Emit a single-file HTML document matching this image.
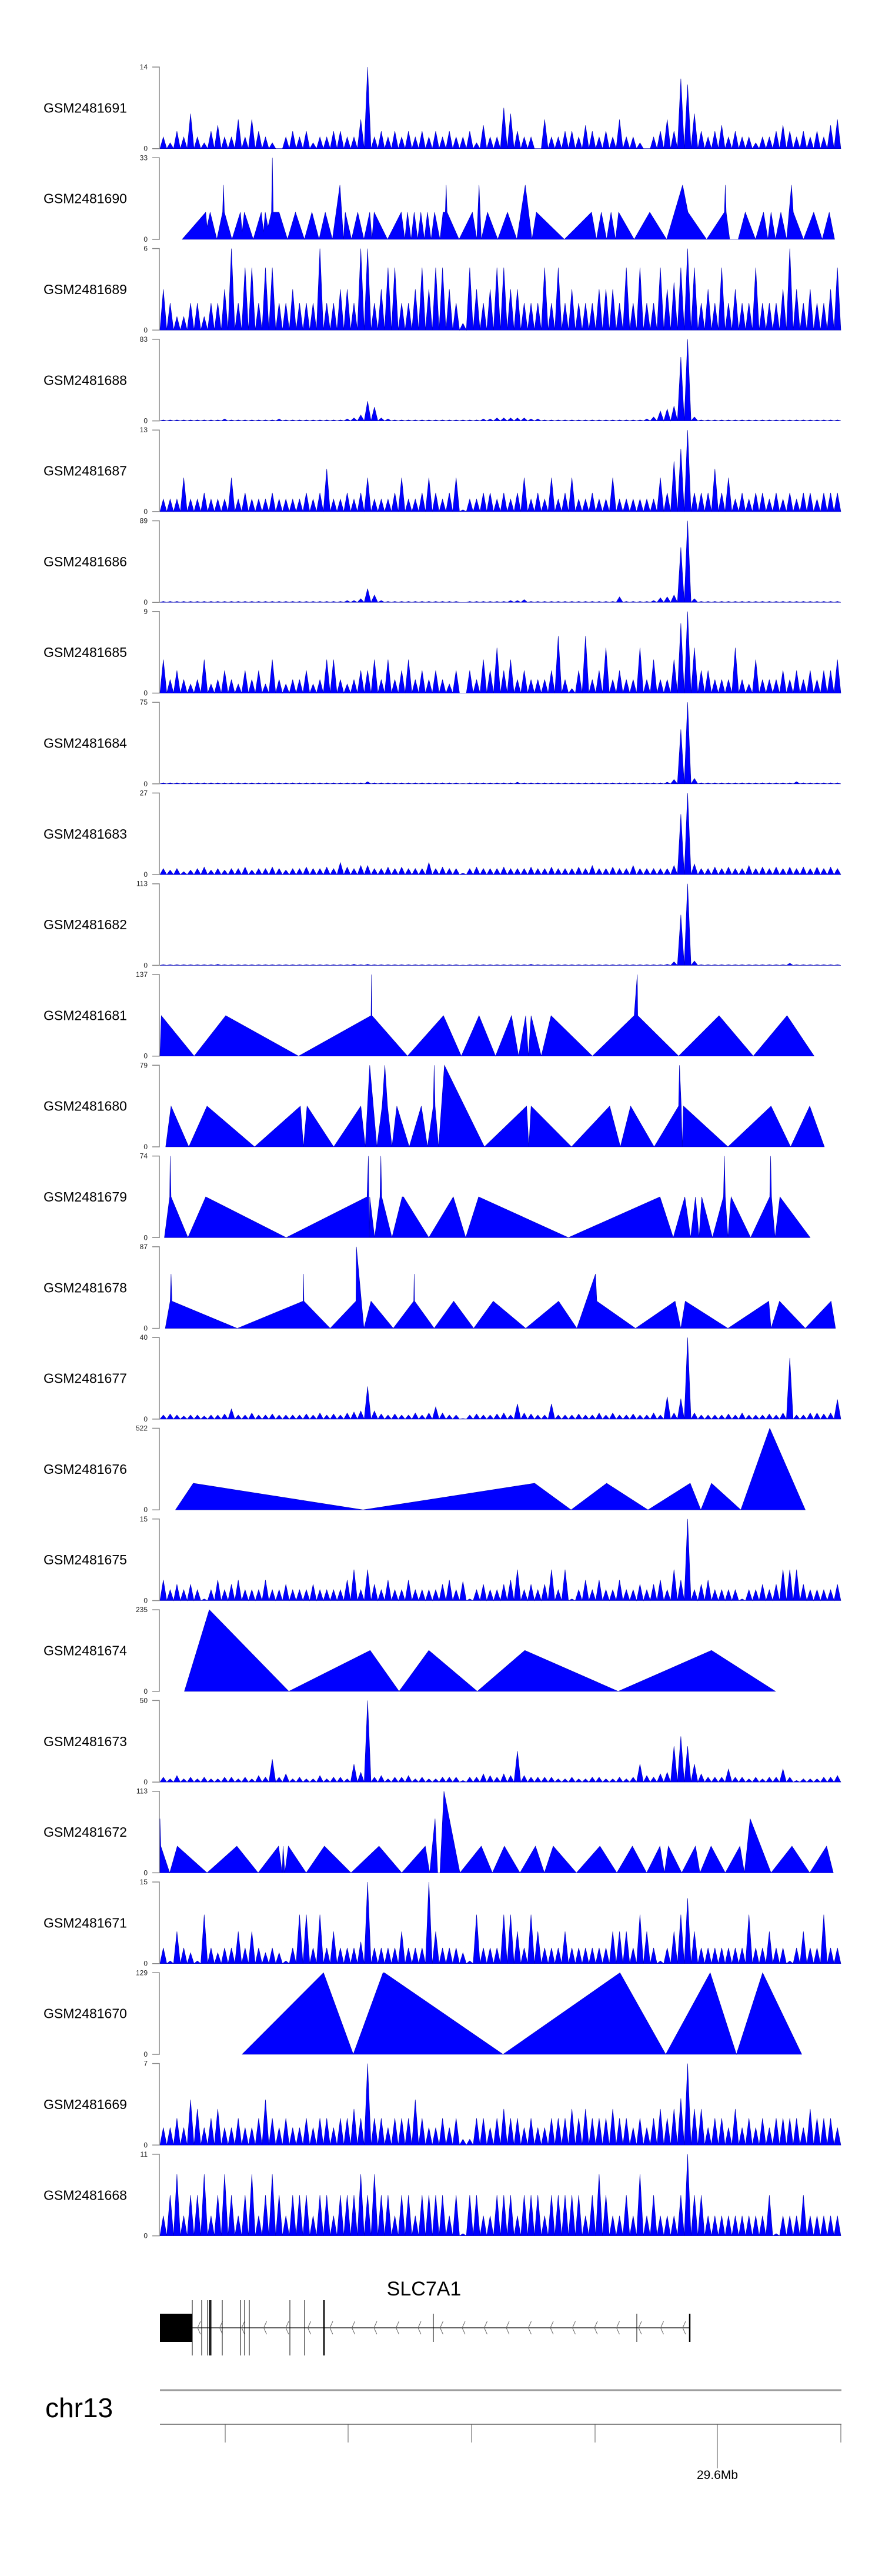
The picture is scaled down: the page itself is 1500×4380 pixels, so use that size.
<!DOCTYPE html>
<html><head><meta charset="utf-8"><title>SLC7A1 coverage tracks</title>
<style>
html,body{margin:0;padding:0;background:#fff;}
svg{display:block;font-family:"Liberation Sans",Arial,sans-serif;}
</style></head>
<body>
<svg id="chart" width="1500" height="4380" viewBox="0 0 1500 4380" xmlns="http://www.w3.org/2000/svg">
<g id="tracks"></g>
<g id="gene">
  <text x="721" y="3903" font-size="34" text-anchor="middle" fill="#000">SLC7A1</text>
  <rect x="272" y="3934" width="55" height="48" fill="#000"/>
  <line x1="327" y1="3958" x2="1173" y2="3958" stroke="#333" stroke-width="1.5"/>
  <g id="chevrons" stroke="#666" stroke-width="1" fill="none"></g>
  <g id="exons" stroke="#000"></g>
</g>
<g id="ideogram">
  <text x="77" y="4110" font-size="46" fill="#000">chr13</text>
  <line x1="272" y1="4064" x2="1431" y2="4064" stroke="#999" stroke-width="3"/>
  <line x1="272" y1="4122" x2="1431" y2="4122" stroke="#888" stroke-width="2"/>
  <g id="gticks" stroke="#555" stroke-width="1"></g>
  <text x="1220" y="4215" font-size="21" text-anchor="middle" fill="#000">29.6Mb</text>
</g>
</svg>
<script>
// ---- data ----
const trackNames = ["GSM2481691","GSM2481690","GSM2481689","GSM2481688","GSM2481687","GSM2481686","GSM2481685","GSM2481684","GSM2481683","GSM2481682","GSM2481681","GSM2481680","GSM2481679","GSM2481678","GSM2481677","GSM2481676","GSM2481675","GSM2481674","GSM2481673","GSM2481672","GSM2481671","GSM2481670","GSM2481669","GSM2481668"];
const trackMax = [14,33,6,83,13,89,9,75,27,113,137,79,74,87,40,522,15,235,50,113,15,129,7,11];

// binned coverage (uniform bins across the region)
const v691 = [2,1,3,2,6,2,1,3,4,2, 2,5,2,5,3,2,1,0,2,3, 2,3,1,2,2,3,3,2,2,5, 14,2,3,2,3,2,3,2,3,2, 3,2,3,2,2,3,1,4,2,2, 7,6,3,2,2,0,5,2,2,3, 3,2,4,3,2,3,2,5,2,2, 1,0,2,3,5,3,12,11,6,3, 2,3,4,2,3,2,2,1,2,2, 3,4,3,2,3,2,3,2,4,5];
const v689 = [3,2,1,1,2,2,1,2,2,3, 6,2,4.6,4.6,2,4.6,4.6,2,2,3, 2,2,2,6,2,2,3,3,2,6, 6,2,3,4.6,4.6,2,2,3,4.6,3, 4.6,4.6,3,2,0.5,4.6,3,2,3,4.6, 4.6,3,3,2,2,2,4.6,2,4.6,2, 3,2,2,2,3,3,3,2,4.6,2, 4.6,2,2,4.6,3,3.5,4.6,6,4.6,2, 3,2,4.6,2,3,2,2,4.6,2,2, 2,3,6,3,2,3,2,2,3,4.6];
const v688 = [1,1,1,1,1,1,1,1,1,2, 1,1,1,1,1,1,1,2,1,1, 1,1,1,1,1,1,1,2,3,6, 20,14,3,2,1,1,1,1,1,1, 1,1,1,1,1,1,1,2,2,3, 3,3,3,3,2,2,1,1,1,1, 1,1,1,1,1,1,1,1,1,1, 1,2,4,10,12,15,65,83,4,1, 1,1,1,1,1,1,1,1,1,1, 1,1,1,1,1,1,1,1,1,1];
const v687 = [2,2,2,5.4,2,2,3,2,2,2, 5.4,2,3,2,2,2,3,2,2,2, 2,3,2,3,6.8,2,2,3,2,3, 5.4,2,2,2,3,5.4,2,2,3,5.4, 3,2,3,5.4,0.3,2,2,3,3,2, 3,2,3,5.4,2,3,2,5.4,2,3, 5.4,2,2,3,2,2,5.4,2,2,2, 2,2,2,5.4,3,8,10,13,3,3, 3,6.8,3,5.4,2,3,2,3,3,2, 3,2,3,2,3,3,2,3,3,3];
const v686 = [1,1,1,1,1,1,1,1,1,1, 1,1,1,1,1,1,1,1,1,1, 1,1,1,1,1,1,1,2,2,4, 15,8,2,1,1,1,1,1,1,1, 1,1,1,1,0,1,1,1,1,1, 1,2,2,3,1,1,1,1,1,1, 1,1,1,1,1,1,1,6,1,1, 1,1,2,5,6,8,60,89,4,1, 1,1,1,1,1,1,1,1,1,1, 1,1,1,1,1,1,1,1,1,1];
const v685 = [3.7,1.5,2.5,1.5,1,1.5,3.7,1,1.5,2.5, 1.5,1,2.5,1.5,2.5,1,3.7,1.5,1,1.5, 1.5,2.5,1,1.5,3.7,3.7,1.5,1,1.5,2.5, 2.5,3.7,1.5,3.7,1.5,2.5,3.7,1.5,2.5,1.5, 2.5,1.5,1,2.5,0,2.5,1.5,3.7,2.5,5, 2.5,3.7,1.5,2.5,1.5,1.5,1.5,2.5,6.3,1.5, 0.5,2.5,6.3,1.5,2.5,5,1.5,2.5,1.5,1.5, 5,1.5,3.7,1.5,1.5,3.7,7.7,9,5,2.5, 2.5,1.5,1.5,1.5,5,1.5,1,3.7,1.5,1.5, 1.5,2.5,1.5,2.5,1.5,2.5,1.5,2.5,2.5,3.7];
const v684 = [1,1,1,1,1,1,1,1,1,1, 1,1,1,1,1,1,1,1,1,1, 1,1,1,1,1,1,1,1,1,1, 2,1,1,1,1,1,1,1,1,1, 1,1,1,1,0.5,1,1,1,1,1, 1,1,1.5,1,1,1,1,1,1,1, 1,1,1,1,1,1,1,1,1,1, 1,1,1,1,1.5,4,50,75,5,1, 1,1,1,1,1,1,1,1,1,1, 1,1,1,2,1,1,1,1,1,1];
const v683 = [2,1.5,2,1,1.5,2,2.5,1.5,2,1.5, 2,2,2.5,1.5,2,2,2.5,2,1.5,2, 2,2.5,2,2,2.5,2,4,2.5,2,3, 3,2,2,2.5,2,2.5,2,2,2,4, 2,2.5,2,2,0.5,2,2.5,2,2,2, 2.5,2,2,2,2.5,2,2,2.5,2,2, 2,2.5,2,3,2,2,2.5,2,2,3, 2,2,2,2,2,3,20,27,3.5,2, 2,2.5,2,2.5,2,2,3,2,2.5,2, 2.5,2,2.5,2,2.5,2,2.5,2,2.5,2];
const v682 = [1,1,1,1,1,1,1,1,1.5,1, 1,1,1,1,1,1,1,1,1,1, 1,1,1,1,1,1,1,1,1.5,1, 1.5,1,1,1,1,1,1,1,1,1, 1,1,1,1,0.5,1,1,1,1,1, 1,1,1,1,1.5,1,1,1,1,1, 1,1,1,1,1,1,1,1,1,1, 1,1,1,1,1.5,5,70,113,6,1, 1,1,1,1,1,1,1,1,1,1, 1,1,3,1,1,1,1,1,1,1];
const v677 = [2,2.5,2,1.5,2,2,1.5,2,2,2.5, 5,2,2,3,2,2,2.5,2,2,2, 2,2.5,2,3,2,2.5,2,3,3.5,4, 16,4,2.5,2,2.5,2,2,3,2,3, 6,3,2,2,0.3,2,2.5,2,2,2.5, 3,2,7.5,3,2.5,2,2,7.5,2,2, 2,2.5,2,2,3,2,3,2,2,2.5, 2,2,3,2,11,3,10,40,3,2, 2,2,2,2.5,2,3,2,2,2,2.5, 2,3,30,2,2,3,3,2.5,3,9.6];
const v675 = [3.8,2,3,2,3,2,0.3,2,3.8,2, 3,3.8,2,2,2,3.8,2,2,3,2, 2,2,3,2,2,2,2,3.8,5.7,2, 5.7,3,2,3.8,2,2,3.8,2,2,2, 2,3,3.8,2,3.5,0.3,2,3,2,2, 3,3.8,5.7,2,3,2,3,5.7,2,5.7, 0.3,2,3.8,2,3.8,2,2,3.8,2,2, 3,2,3,3.8,2,5.7,3.8,15,2,3, 3.8,2,2,2,2,0.3,2,2,3,2, 3,5.7,5.7,5.7,3,2,2,2,2,3];
const v673 = [3,2,4,2,3,2,3,2,2,3, 3,2,3,2,4,3,14,3,5,2, 3,2,2,4,2,3,3,2,11,6, 50,3,4,2,3,3,4,2,3,2, 2,3,3,3,1,3,3,5,4,3, 5,4,19,4,3,3,3,3,2,2, 3,2,2,3,3,2,2,3,2,3, 11,4,3,5,6,22,28,22,11,5, 3,3,3,8,3,3,2,3,2,3, 3,8,3,1,2,2,2,3,3,4];
const v671 = [2.9,0.5,5.9,2.9,2,0.5,9,2.9,2,2.9, 2.9,5.9,2.9,5.9,2.9,2,2.9,2,0.5,2.9, 9,9,2.9,9,2.9,5.9,2.9,2.9,2.9,4, 15,2.9,2.9,2.9,2.9,5.9,2.9,2.9,2.9,15, 5.9,2.9,2.9,2.9,2,0.5,9,2.9,2.9,2.9, 9,9,5.9,2.9,9,5.9,2.9,2.9,2.9,5.9, 2.9,2.9,2.9,2.9,2.9,2.9,5.9,5.9,5.9,2.9, 9,5.9,2.9,0.5,2.9,5.9,9,12,5.9,2.9, 2.9,2.9,2.9,2.9,2.9,2.9,9,2.9,2.9,5.9, 2.9,2.9,0.5,2.9,5.9,2.9,2.9,9,2.9,2.9];
const v669 = [1.5,1.5,2.3,1.5,3.9,3.1,1.5,2.3,3.1,1.5, 1.5,2.3,1.5,1.5,2.3,3.9,2.3,1.5,2.3,1.5, 1.5,2.3,1.5,2.3,2.3,1.5,2.3,2.3,3.1,2.3, 7,2.3,2.3,1.5,2.3,2.3,2.3,3.9,2.3,1.5, 1.5,2.3,1.5,2.3,0.5,0.5,2.3,2.3,1.5,2.3, 3.1,2.3,2.3,1.5,2.3,1.5,1.5,2.3,2.3,2.3, 3.1,2.3,3.1,2.3,2.3,2.3,3.1,2.3,2.3,1.5, 2.3,1.5,2.3,3.1,2.3,3.1,4,7,3.1,3.1, 1.5,2.3,2.3,1.5,3.1,1.5,2.3,1.5,2.3,1.5, 2.3,2.3,2.3,2.3,1.5,3.1,2.3,2.3,2.3,1.5];
const v668 = [2.7,5.5,8.3,2.7,5.5,5.5,8.3,2.7,5.5,8.3, 5.5,2.7,5.5,8.3,2.7,5.5,8.3,5.5,2.7,5.5, 5.5,5.5,2.7,5.5,5.5,2.7,5.5,5.5,5.5,8.3, 5.5,8.3,5.5,5.5,2.7,5.5,5.5,2.7,5.5,5.5, 5.5,5.5,2.7,5.5,0.3,5.5,5.5,2.7,2.7,5.5, 5.5,5.5,2.7,5.5,5.5,5.5,2.7,5.5,5.5,5.5, 5.5,5.5,2.7,5.5,8.3,5.5,2.7,2.7,5.5,2.7, 8.3,2.7,5.5,2.7,2.7,2.7,5.5,11,5.5,5.5, 2.7,2.7,2.7,2.7,2.7,2.7,2.7,2.7,2.7,5.5, 0.3,2.7,2.7,2.7,5.5,2.7,2.7,2.7,2.7,2.7];

// sparse coverage: vertex positions (region units 15..1547) and values
const pos690 = [65,118,121,128,143,156,158,160,177,196,200,205,225,243,248,252,258,266,268,270,283,302,320,340,357,373,387,403,420,428,432,446,460,474,487,492,497,527,558,566,572,580,587,595,602,610,617,625,633,645,652,657,659,661,688,718,728,733,738,752,775,797,818,837,852,862,925,986,997,1008,1020,1030,1040,1047,1082,1117,1155,1191,1203,1245,1285,1287,1289,1297,1316,1332,1355,1373,1383,1390,1400,1412,1425,1436,1440,1463,1486,1505,1521,1533];
const val690 = [0,11,5,11,0,11,22,11,0,11,3,11,0,11,3,11,5,11,33,11,11,0,11,0,11,0,11,0,22,0,11,0,11,0,11,0,11,0,11,0,11,0,11,0,11,0,11,0,11,0,11,11,22,11,0,11,0,22,0,11,0,11,0,22,0,11,0,11,0,11,0,11,0,11,0,11,0,22,11,0,11,22,11,0,0,11,0,11,0,11,0,11,0,22,11,0,11,0,11,0];
const pos681 = [15,18,92,163,327,490,491,492,572,653,693,733,770,806,822,838,844,850,873,895,988,1082,1089,1090,1182,1273,1350,1426,1487];
const val681 = [0,68,0,68,0,68,137,68,0,68,0,68,0,68,0,68,0,68,0,68,0,68,137,68,0,68,0,68,0];
const pos680 = [28,40,80,121,228,331,338,346,406,467,477,487,503,515,521,527,537,548,576,603,617,630,632,634,642,655,745,840,845,850,941,1027,1051,1074,1127,1182,1184,1188,1190,1193,1293,1390,1434,1477,1510];
const val680 = [0,39.5,0,39.5,0,39.5,0,39.5,0,39.5,0,79,0,39.5,79,39.5,0,39.5,0,39.5,0,39.5,79,39.5,0,79,0,39.5,0,39.5,0,39.5,0,39.5,0,39.5,79,39.5,0,39.5,0,39.5,0,39.5,0];
const pos679 = [25,37,38,40,78,118,299,481,484,486,487,498,510,512,514,537,560,563,620,675,703,732,934,1140,1170,1196,1209,1220,1228,1234,1258,1283,1285,1287,1293,1300,1344,1387,1389,1391,1399,1410,1478];
const val679 = [0,37,74,37,0,37,0,37,74,0,37,0,37,74,37,0,37,37,0,37,0,37,0,37,0,37,0,37,0,37,0,37,74,37,0,37,0,37,74,37,0,37,0];
const pos678 = [27,38,40,42,189,337,338,339,398,456,457,474,490,540,586,587,588,632,676,721,765,838,912,953,995,998,1085,1174,1187,1197,1293,1385,1390,1409,1467,1525,1535];
const val678 = [0,29,58,29,0,29,58,29,0,29,87,0,29,0,29,58,29,0,29,0,29,0,29,0,58,29,0,29,0,29,0,29,0,29,0,29,0];
const pos676 = [50,90,472,858,940,1020,1113,1208,1232,1256,1322,1387,1467];
const val676 = [0,170,0,170,0,170,0,170,0,170,0,522,0];
const pos674 = [70,126,305,488,553,620,729,836,1046,1256,1400];
const val674 = [0,235,0,118,0,118,0,118,0,118,0];
const pos672 = [15,17,37,54,121,188,236,282,290,292,296,304,344,385,445,508,559,612,622,634,640,645,654,690,738,763,790,825,860,880,900,952,1005,1043,1078,1110,1140,1150,1159,1189,1220,1230,1255,1287,1320,1330,1343,1390,1437,1477,1515,1530];
const val672 = [75,37,0,37,0,37,0,37,0,37,0,37,0,37,0,37,0,37,0,75,0,0,113,0,37,0,37,0,37,0,37,0,37,0,37,0,37,0,37,0,37,0,37,0,37,0,75,0,37,0,37,0];
const pos670 = [200,383,450,517,520,787,1050,1153,1253,1312,1371,1459];
const val670 = [0,129,0,129,129,0,129,0,129,0,129,0];

const trackSeries = [
  {bins:v691},{pos:pos690,val:val690},{bins:v689},{bins:v688},{bins:v687},{bins:v686},
  {bins:v685},{bins:v684},{bins:v683},{bins:v682},{pos:pos681,val:val681},{pos:pos680,val:val680},
  {pos:pos679,val:val679},{pos:pos678,val:val678},{bins:v677},{pos:pos676,val:val676},
  {bins:v675},{pos:pos674,val:val674},{bins:v673},{pos:pos672,val:val672},
  {bins:v671},{pos:pos670,val:val670},{bins:v669},{bins:v668}
];

// ---- layout / axis functions ----
const NS = "http://www.w3.org/2000/svg";
const X0 = 272, X1 = 1430, D0 = 15, D1 = 1547;
const TOP0 = 114, PITCH = 154.3, H = 138.7;
function xScale(d){ return X0 + (d - D0) * (X1 - X0) / (D1 - D0); }
function yScale(v, max, top){ return top + H - (Math.min(v, max) / max) * H; }
function mk(tag, attrs, parent){
  const el = document.createElementNS(NS, tag);
  for (const k in attrs) el.setAttribute(k, attrs[k]);
  parent.appendChild(el);
  return el;
}

const tracksG = document.getElementById('tracks');
trackNames.forEach((name, i) => {
  const top = TOP0 + i * PITCH, bot = top + H, max = trackMax[i];
  const g = mk('g', {}, tracksG);
  
  

  const lab = mk('text', {x: 74, y: top + H / 2 + 8, 'font-size': 23, fill: '#000'}, g);
  
  
  lab.textContent = name;

  const ax = mk('path', {d: `M259 ${top} H271 V${bot} H259`, fill: 'none', stroke: '#888', 'stroke-width': 1.5}, g);
  
  

  const tMax = mk('text', {x: 251, y: top + 4, 'font-size': 12, 'text-anchor': 'end', fill: '#222'}, g);
  
  
  tMax.textContent = max;
  const tMin = mk('text', {x: 251, y: bot + 4, 'font-size': 12, 'text-anchor': 'end', fill: '#222'}, g);
  
  
  tMin.textContent = '0';

  const s = trackSeries[i];
  let pts = [];
  if (s.bins) {
    const n = s.bins.length, w = (D1 - D0) / n;
    pts.push([xScale(D0), bot]);
    s.bins.forEach((v, j) => {
      const c = D0 + (j + 0.5) * w;
      pts.push([xScale(c - w * 0.5), bot]);
      pts.push([xScale(c), yScale(v, max, top)]);
    });
    pts.push([xScale(D1), bot]);
  } else {
    pts.push([xScale(s.pos[0]), bot]);
    s.pos.forEach((p, j) => pts.push([xScale(p), yScale(s.val[j], max, top)]));
    pts.push([xScale(s.pos[s.pos.length - 1]), bot]);
  }
  const poly = mk('polygon', {points: pts.map(p => p[0].toFixed(1) + ',' + p[1].toFixed(1)).join(' '),
    fill: '#0000ff', stroke: '#0000b0', 'stroke-width': 0.6, 'stroke-linejoin': 'miter'}, g);
  
  
});

// gene model
const chev = document.getElementById('chevrons');
for (let x = 336; x < 1170; x += 37.5) {
  const c = mk('path', {d: `M${x + 5} 3947 L${x} 3958 L${x + 5} 3969`}, chev);
  
  
}
const exG = document.getElementById('exons');
const tallExons = [[327,1],[343,1],[353,1],[357,2.5],[359,1],[378,1],[409,1],[416,1],[424,1],[493,1],[518,1],[551,2.5]];
tallExons.forEach(e => {
  const l = mk('line', {x1: e[0], x2: e[0], y1: 3911, y2: 4005, 'stroke-width': e[1]}, exG);
  
  
});
[[737,1],[1083,1],[1173,2.5]].forEach(e => {
  const l = mk('line', {x1: e[0], x2: e[0], y1: 3934, y2: 3982, 'stroke-width': e[1]}, exG);
  
  
});

// genome axis ticks
const gt = document.getElementById('gticks');
[383,592,802,1012,1220,1430].forEach(x => {
  const l = mk('line', {x1: x, x2: x, y1: 4122, y2: x === 1220 ? 4197 : 4153}, gt);
  
  
});
</script>
</body></html>
